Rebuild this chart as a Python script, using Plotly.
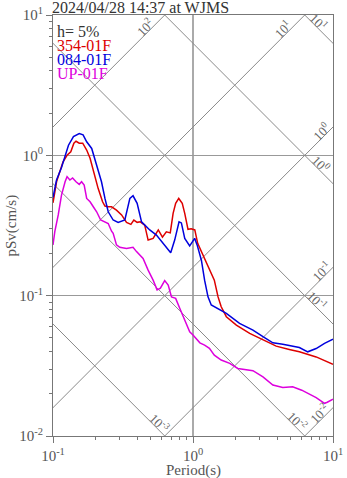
import numpy as np
import plotly.graph_objects as go

# Pseudo-velocity response spectra, h = 5 %
period_ns = [0.100, 0.106, 0.118, 0.126, 0.134, 0.141, 0.146, 0.154, 0.163, 0.174, 0.184,
             0.194, 0.210, 0.226, 0.235, 0.248, 0.262, 0.284, 0.309, 0.335, 0.360, 0.378,
             0.399, 0.420, 0.452, 0.478, 0.519, 0.565, 0.605, 0.645, 0.688, 0.721, 0.752,
             0.791, 0.838, 0.873, 0.921, 0.970, 1.03, 1.08, 1.18, 1.29, 1.35, 1.42, 1.51,
             1.59, 1.73, 2.04, 2.54, 3.16, 3.93, 4.87, 5.75, 7.58, 10.0]
sv_ns = [0.459, 0.648, 0.90, 1.0, 1.06, 1.22, 1.26, 1.22, 1.22, 1.09, 0.953,
         0.786, 0.582, 0.467, 0.435, 0.43, 0.43, 0.407, 0.376, 0.333, 0.322, 0.346,
         0.333, 0.336, 0.318, 0.249, 0.256, 0.294, 0.261, 0.285, 0.28, 0.386, 0.455,
         0.493, 0.455, 0.386, 0.297, 0.30, 0.294, 0.236, 0.195, 0.161, 0.144, 0.129, 0.098,
         0.0834, 0.0708, 0.0617, 0.0538, 0.0482, 0.0437, 0.0414, 0.0398, 0.0366, 0.0324]

period_ew = [0.100, 0.106, 0.115, 0.122, 0.129, 0.140, 0.154, 0.164, 0.174, 0.189, 0.205,
             0.222, 0.235, 0.248, 0.269, 0.292, 0.326, 0.354, 0.373, 0.399, 0.429, 0.466,
             0.491, 0.548, 0.612, 0.693, 0.740, 0.795, 0.826, 0.873, 0.947, 1.028, 1.07,
             1.148, 1.21, 1.28, 1.35, 1.55, 1.73, 2.15, 2.68, 3.16, 3.72, 4.38, 5.75, 6.6,
             7.58, 8.7, 10.0]
sv_ew = [0.50, 0.667, 0.82, 1.0, 1.18, 1.36, 1.43, 1.40, 1.25, 1.12, 0.853,
         0.648, 0.493, 0.396, 0.346, 0.333, 0.346, 0.493, 0.515, 0.455, 0.336, 0.310,
         0.294, 0.270, 0.236, 0.202, 0.249, 0.336, 0.33, 0.256, 0.226, 0.256, 0.23,
         0.179, 0.129, 0.098, 0.0858, 0.0789, 0.0748, 0.0635, 0.0569, 0.051, 0.0461, 0.045,
         0.0427, 0.0398, 0.042, 0.0457, 0.0489]

period_ud = [0.100, 0.103, 0.109, 0.115, 0.122, 0.126, 0.132, 0.138, 0.146, 0.154, 0.160,
             0.167, 0.174, 0.184, 0.194, 0.205, 0.219, 0.235, 0.248, 0.262, 0.269, 0.284,
             0.300, 0.335, 0.373, 0.395, 0.440, 0.478, 0.519, 0.554, 0.585, 0.628, 0.665,
             0.702, 0.752, 0.804, 0.873, 0.947, 1.0, 1.12, 1.21, 1.31, 1.42, 1.59, 1.83,
             2.09, 2.68, 3.16, 3.72, 4.38, 5.15, 5.98, 7.58, 8.7, 9.1, 10.0]
sv_ud = [0.23, 0.286, 0.376, 0.521, 0.648, 0.705, 0.667, 0.69, 0.648, 0.621, 0.648,
         0.614, 0.493, 0.467, 0.43, 0.396, 0.346, 0.336, 0.327, 0.288, 0.278, 0.23,
         0.221, 0.217, 0.221, 0.206, 0.184, 0.152, 0.129, 0.11, 0.113, 0.128, 0.119,
         0.098, 0.0957, 0.0813, 0.067, 0.0553, 0.0525, 0.0461, 0.0444, 0.0421, 0.0377, 0.0348, 0.0329,
         0.0303, 0.0292, 0.0264, 0.0231, 0.0222, 0.0224, 0.0212, 0.0188, 0.0171, 0.0174, 0.0183]

series_names = ["354-01F", "084-01F", "UP-01F"]
series_colors = ["#dd0000", "#0000dd", "#dd00dd"]

# Tripartite reference values: pseudo-acceleration (cm/s^2) and displacement (cm)
accel_levels = [1e-2, 1e-1, 1e0, 1e1, 1e2]
accel_labels = ["10<sup>-2</sup>", "10<sup>-1</sup>", "10<sup>0</sup>", "10<sup>1</sup>", "10<sup>2</sup>"]
accel_label_T = [8.0, 8.26, 8.26, 4.36, 0.453]
disp_levels = [1e-3, 1e-2, 1e-1, 1e0, 1e1]
disp_labels = ["10<sup>-3</sup>", "10<sup>-2</sup>", "10<sup>-1</sup>", "10<sup>0</sup>", "10<sup>1</sup>"]
disp_label_T = [0.58, 5.6, 7.7, 8.26, 8.0]

axis_ticks = [0.01, 0.1, 1, 10]
axis_ticktext = ["10<sup>-2</sup>", "10<sup>-1</sup>", "10<sup>0</sup>", "10<sup>1</sup>"]

FONT = "Liberation Serif"
TWO_PI = 2 * np.pi
t_ends = np.array([0.01, 100.0])

fig = go.Figure()

for sa in accel_levels:
    fig.add_trace(go.Scatter(x=t_ends, y=sa * t_ends / TWO_PI, mode="lines",
                             line=dict(color="#8a8a8a", width=1), hoverinfo="skip",
                             showlegend=False))
for sd in disp_levels:
    fig.add_trace(go.Scatter(x=t_ends, y=TWO_PI * sd / t_ends, mode="lines",
                             line=dict(color="#8a8a8a", width=1), hoverinfo="skip",
                             showlegend=False))

for t, sv, name, color in zip([period_ns, period_ew, period_ud], [sv_ns, sv_ew, sv_ud],
                              series_names, series_colors):
    fig.add_trace(go.Scatter(x=t, y=sv, mode="lines", name=name,
                             line=dict(color=color, width=1.5), showlegend=False))

annotations = []
for sa, lab, tl in zip(accel_levels, accel_labels, accel_label_T):
    annotations.append(dict(x=np.log10(tl), y=np.log10(sa * tl / TWO_PI), xref="x", yref="y",
                            text=lab, showarrow=False, textangle=-45, yshift=8,
                            xanchor="center", yanchor="middle",
                            font=dict(family=FONT, size=13, color="#666")))
for sd, lab, tl in zip(disp_levels, disp_labels, disp_label_T):
    annotations.append(dict(x=np.log10(tl), y=np.log10(TWO_PI * sd / tl), xref="x", yref="y",
                            text=lab, showarrow=False, textangle=45, yshift=8,
                            xanchor="center", yanchor="middle",
                            font=dict(family=FONT, size=13, color="#666")))

annotations.append(dict(x=0, y=1, xref="paper", yref="paper", xanchor="left", yanchor="bottom",
                        xshift=-3, yshift=-3, text="2024/04/28 14:37 at WJMS", showarrow=False,
                        font=dict(family=FONT, size=16, color="#333")))
legend_lines = [("h= 5%", "#333")] + list(zip(series_names, series_colors))
for i, (txt, col) in enumerate(legend_lines):
    annotations.append(dict(x=0, y=1, xref="paper", yref="paper", xanchor="left", yanchor="middle",
                            xshift=2, yshift=-16 - 14.2 * i, text=txt, showarrow=False,
                            font=dict(family=FONT, size=16, color=col)))
annotations.append(dict(x=-0.15, y=0.5, xref="paper", yref="paper", text="pSv(cm/s)",
                        xanchor="center", yanchor="middle", textangle=-90, showarrow=False,
                        font=dict(family=FONT, size=15, color="#555")))
annotations.append(dict(x=0.5, y=-0.083, xref="paper", yref="paper", text="Period(s)",
                        xanchor="center", yanchor="middle", showarrow=False,
                        font=dict(family=FONT, size=15, color="#555")))

axis_common = dict(type="log", showgrid=True, gridcolor="#999", gridwidth=1,
                   showline=True, linecolor="#777", linewidth=1, mirror=True,
                   ticks="outside", ticklen=6, tickcolor="#777", automargin=False,
                   zeroline=False, tickfont=dict(family=FONT, size=15, color="#555"),
                   minor=dict(ticks="outside", ticklen=3, tickcolor="#777", dtick="D1",
                              showgrid=False))

fig.update_layout(
    width=347, height=478,
    margin=dict(l=53, r=14, t=15, b=42),
    paper_bgcolor="white", plot_bgcolor="white",
    xaxis=dict(range=[-1, 1], tickvals=axis_ticks[1:], ticktext=axis_ticktext[1:], **axis_common),
    yaxis=dict(range=[-2, 1], tickvals=axis_ticks, ticktext=axis_ticktext, **axis_common),
    annotations=annotations,
    showlegend=False,
)
fig.update_xaxes(gridcolor="#aaa", gridwidth=1.5)

fig.write_html("out.html")
